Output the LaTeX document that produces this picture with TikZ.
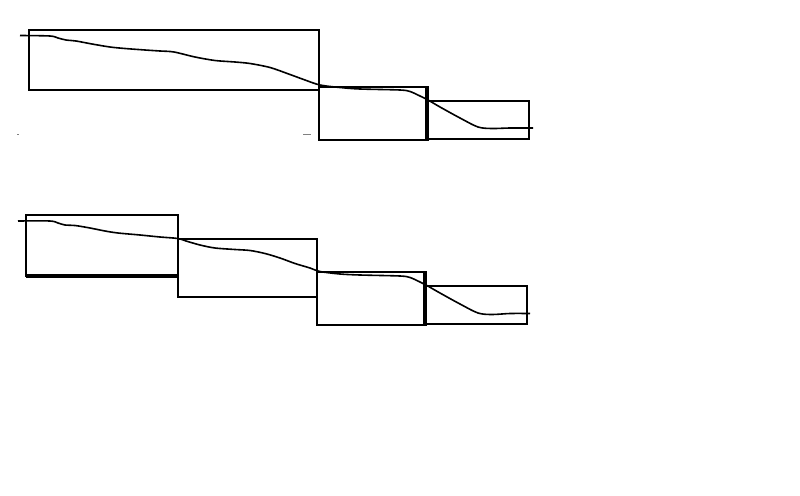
\documentclass[tikz,border=0pt]{standalone}
\begin{document}
\begin{tikzpicture}[x=0.75pt,y=-0.75pt,
  blk/.style={draw=black,line width=1.6pt,inner sep=0,outer sep=0,anchor=north west},
  crv/.style={draw=black,line width=1.2pt,line join=round}]
\useasboundingbox[fill=white] (0,0) rectangle (800,496);
% top row
\node[blk,minimum width=290*0.75pt,minimum height=60*0.75pt] (ta) at (29,30) {};
\node[blk,minimum width=109*0.75pt,minimum height=53*0.75pt] (tb) at (319,87) {};
\node[blk,minimum width=101*0.75pt,minimum height=38*0.75pt] (tc) at (428,101) {};
\draw[line width=3pt] ([xshift=-0.4pt]tb.north east) -- ([xshift=-0.4pt]tb.south east);
\draw[crv] plot[smooth,tension=0.5] coordinates {(20,35.5) (50,36) (58,38) (66,40) (76,41) (92,44) (110,47) (125,48.5) (145,50) (160,51) (174,52) (195,57) (215,60.5) (235,62) (250,63.5) (270,67.5) (290,74.5) (305,80) (320,85) (340,87.5) (360,89) (400,90) (410,91.5) (420,96) (428,100) (440,107) (460,118) (478,127) (492,128.5) (510,128) (533,128)};
\draw[line width=0.5pt,gray] (303,134.5) -- (311,134.5);
\draw[line width=0.5pt,gray] (17,134.5) -- (19,134.5);
% bottom row
\node[blk,minimum width=152*0.75pt,minimum height=61*0.75pt] (ba) at (26,215) {};
\node[blk,minimum width=139*0.75pt,minimum height=58*0.75pt] (bb) at (178,239) {};
\node[blk,minimum width=109*0.75pt,minimum height=53*0.75pt] (bc) at (317,272) {};
\node[blk,minimum width=101*0.75pt,minimum height=38*0.75pt] (bd) at (426,286) {};
\draw[line width=2.6pt] (ba.south west) -- (ba.south east);
\draw[line width=3pt] ([xshift=-0.4pt]bc.north east) -- ([xshift=-0.4pt]bc.south east);
\draw[crv] plot[smooth,tension=0.5] coordinates {(18,221) (50,221) (58,223) (65,225) (75,225.5) (90,228) (105,231) (118,233) (140,235) (160,237) (178,238.5) (186,241) (200,245) (215,248) (235,249.5) (250,250.5) (265,253.5) (280,258) (295,263.5) (310,268) (320,271.5) (340,274) (360,275) (400,276) (410,277.5) (420,282) (426,285) (440,293) (460,304) (478,313) (492,314.5) (510,313.5) (530,313.5)};
\end{tikzpicture}
\end{document}
